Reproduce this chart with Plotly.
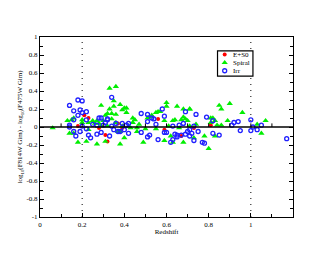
import plotly.graph_objects as go

# ---- data ----
irr_z = [0.14, 0.14, 0.16, 0.16, 0.16, 0.17, 0.18, 0.18, 0.19, 0.20, 0.20, 0.19, 0.20, 0.22, 0.22,
         0.22, 0.23, 0.24, 0.25, 0.27, 0.27, 0.28, 0.29, 0.29, 0.30, 0.31, 0.32, 0.32, 0.33, 0.34,
         0.34, 0.35, 0.36, 0.37, 0.38, 0.39, 0.40, 0.41, 0.42, 0.42, 0.48, 0.48, 0.51, 0.51, 0.51,
         0.52, 0.53, 0.54, 0.55, 0.56, 0.58, 0.59, 0.59, 0.60, 0.62, 0.63, 0.63, 0.64, 0.65, 0.65,
         0.66, 0.67, 0.68, 0.69, 0.69, 0.70, 0.71, 0.71, 0.72, 0.73, 0.73, 0.74, 0.75, 0.77, 0.78,
         0.79, 0.82, 0.82, 0.85, 0.91, 0.92, 0.94, 0.95, 1.00, 1.00, 1.01, 1.03, 1.05, 1.17, 0.14]
irr_d = [0.24, 0.00, 0.18, 0.08, -0.05, -0.10, 0.30, 0.13, 0.19, 0.29, 0.16, -0.05, 0.01, 0.08, 0.17,
         -0.02, -0.09, -0.12, 0.03, 0.02, -0.08, 0.10, 0.10, -0.06, 0.02, 0.05, 0.09, 0.08, -0.10, 0.33,
         0.01, -0.03, 0.04, -0.05, -0.05, 0.04, -0.03, 0.02, 0.04, -0.07, 0.15, -0.06, 0.14, 0.06, -0.11,
         -0.09, 0.10, 0.09, 0.03, -0.14, 0.20, 0.12, -0.06, -0.06, -0.17, -0.14, 0.01, -0.08, -0.11, -0.09,
         0.02, -0.09, 0.04, 0.17, -0.08, -0.05, -0.10, -0.03, -0.07, 0.01, -0.15, 0.14, -0.05, -0.17, -0.18,
         0.11, 0.07, -0.07, -0.09, 0.02, 0.05, 0.06, -0.04, 0.08, -0.04, 0.00, -0.03, 0.02, -0.13, 0.02]

spiral_z = [0.06, 0.13, 0.14, 0.15, 0.16, 0.16, 0.18, 0.20, 0.20, 0.22, 0.23, 0.23, 0.25, 0.26, 0.27,
            0.27, 0.28, 0.29, 0.29, 0.30, 0.31, 0.31, 0.32, 0.32, 0.33, 0.33, 0.34, 0.34, 0.35, 0.35,
            0.36, 0.36, 0.36, 0.37, 0.38, 0.38, 0.38, 0.39, 0.39, 0.40, 0.40, 0.41, 0.41, 0.42, 0.43,
            0.44, 0.44, 0.45, 0.46, 0.46, 0.47, 0.49, 0.50, 0.51, 0.52, 0.53, 0.55, 0.55, 0.56, 0.57,
            0.59, 0.59, 0.60, 0.60, 0.61, 0.62, 0.63, 0.63, 0.64, 0.65, 0.66, 0.67, 0.68, 0.68, 0.68,
            0.69, 0.70, 0.71, 0.71, 0.71, 0.73, 0.74, 0.78, 0.80, 0.81, 0.81, 0.82, 0.83, 0.83, 0.84,
            0.85, 0.86, 0.86, 0.89, 0.90, 0.96, 1.03, 1.05, 1.07]
spiral_d = [-0.01, 0.07, -0.07, 0.08, 0.10, -0.07, -0.17, 0.08, 0.05, -0.16, -0.03, 0.05, 0.07, 0.04, -0.19,
            0.07, 0.04, 0.24, 0.01, 0.07, -0.16, 0.13, 0.01, 0.15, 0.43, 0.20, 0.09, 0.15, 0.29, 0.23,
            0.45, 0.14, 0.05, -0.05, -0.05, 0.25, -0.19, 0.19, 0.01, -0.12, 0.21, 0.21, 0.16, 0.01, -0.01,
            0.05, 0.10, 0.08, -0.01, -0.05, 0.03, -0.17, -0.02, 0.10, 0.11, 0.13, -0.02, 0.16, 0.17, 0.17,
            0.07, -0.15, 0.27, 0.23, 0.01, -0.10, -0.17, 0.07, 0.08, 0.23, -0.01, 0.08, -0.17, 0.20, 0.11,
            0.09, 0.07, 0.20, 0.20, 0.01, -0.12, 0.03, -0.10, -0.24, 0.05, 0.10, 0.10, -0.10, 0.07, 0.02,
            0.24, 0.20, 0.02, 0.07, 0.26, 0.16, 0.03, -0.07, 0.07]

es0_z = [0.18, 0.21, 0.23, 0.28, 0.31, 0.32, 0.37, 0.39, 0.56, 0.59, 0.67, 0.73, 0.81]
es0_d = [0.01, 0.13, 0.10, -0.01, -0.09, -0.16, 0.04, -0.01, 0.09, -0.03, -0.10, -0.01, 0.02]

series_names = ["E+S0", "Spiral", "Irr"]

x_ticks = [0, 0.2, 0.4, 0.6, 0.8, 1]
x_ticklabels = ["0", "0.2", "0.4", "0.6", "0.8", "1"]
y_ticks = [-1, -0.8, -0.6, -0.4, -0.2, 0, 0.2, 0.4, 0.6, 0.8, 1]
y_ticklabels = ["-1", "-0.8", "-0.6", "-0.4", "-0.2", "0", "0.2", "0.4", "0.6", "0.8", "1"]
ref_lines_z = [0.2, 1.0]
zero_ticks = [0.1, 0.2, 0.3, 0.4, 0.5, 0.6, 0.7, 0.8, 0.9, 1.0, 1.1]

FONT = "Liberation Serif"

styles = [
    dict(symbol="circle", size=4, color="#ff0000", line=dict(width=0)),
    dict(symbol="triangle-up", size=5.5, color="#00ee00", line=dict(width=0)),
    dict(symbol="circle-open", size=4, color="#2020ff", line=dict(width=1.3)),
]
series = [(es0_z, es0_d), (spiral_z, spiral_d), (irr_z, irr_d)]

fig = go.Figure()
for (xs, ys), name, st in zip(series, series_names, styles):
    fig.add_trace(go.Scatter(x=xs, y=ys, mode="markers", name=name, marker=st,
                             showlegend=False))

# ---- manual compact legend (layout placement in axis units) ----
LEG_X0, LEG_X1, LEG_Y0, LEG_Y1 = 0.842, 1.01, 0.566, 0.846
LEG_KEY_X, LEG_TEXT_X = 0.876, 0.906
LEG_ROWS_Y = [0.805, 0.715, 0.625]

shapes = []
for z in ref_lines_z:
    shapes.append(dict(type="line", xref="x", yref="y", x0=z, x1=z, y0=-1, y1=1,
                       line=dict(color="black", width=1, dash="1px,5px"), layer="below"))
shapes.append(dict(type="rect", xref="x", yref="y", x0=LEG_X0, x1=LEG_X1, y0=LEG_Y0, y1=LEG_Y1,
                   fillcolor="white", line=dict(color="black", width=1.2), layer="below"))
shapes.append(dict(type="line", xref="paper", yref="y", x0=0, x1=1, y0=0, y1=0,
                   line=dict(color="black", width=1.6), layer="above"))
for z in zero_ticks:
    shapes.append(dict(type="line", xref="x", yref="y", x0=z, x1=z, y0=0, y1=0.04,
                       line=dict(color="black", width=1), layer="above"))

annotations = []
for name, st, ry in zip(series_names, styles, LEG_ROWS_Y):
    fig.add_trace(go.Scatter(x=[LEG_KEY_X], y=[ry], mode="markers", marker=st,
                             showlegend=False, hoverinfo="skip"))
    annotations.append(dict(x=LEG_TEXT_X, y=ry, xref="x", yref="y", text=name,
                            showarrow=False, xanchor="left", yanchor="middle",
                            font=dict(family=FONT, size=7, color="black")))

fig.update_layout(
    width=322, height=247,
    margin=dict(l=30, r=37, t=29, b=38),
    paper_bgcolor="white", plot_bgcolor="white",
    font=dict(family=FONT, size=7, color="black"),
    shapes=shapes,
    annotations=annotations,
    showlegend=False,
    xaxis=dict(range=[0, 1.2], tickmode="array", tickvals=x_ticks, ticktext=x_ticklabels,
               ticks="inside", ticklen=4, tickwidth=1, tickcolor="black",
               minor=dict(dtick=0.1, tick0=0, ticks="inside", ticklen=2.5, tickcolor="black"),
               showline=True, linecolor="black", linewidth=1.2, mirror=True,
               showgrid=False, zeroline=False,
               title=dict(text="Redshift", font=dict(family=FONT, size=7), standoff=1),
               tickfont=dict(family=FONT, size=7)),
    yaxis=dict(range=[-1, 1], tickmode="array", tickvals=y_ticks, ticktext=y_ticklabels,
               ticks="inside", ticklen=4, tickwidth=1, tickcolor="black",
               minor=dict(dtick=0.1, tick0=0, ticks="inside", ticklen=2.5, tickcolor="black"),
               showline=True, linecolor="black", linewidth=1.2, mirror="ticks",
               showgrid=False, zeroline=False,
               title=dict(text="log<sub>10</sub>(F814W Gim) - log<sub>10</sub>(F475W Gim)",
                          font=dict(family=FONT, size=7), standoff=2),
               tickfont=dict(family=FONT, size=7)),
)

fig.write_html("out.html")
